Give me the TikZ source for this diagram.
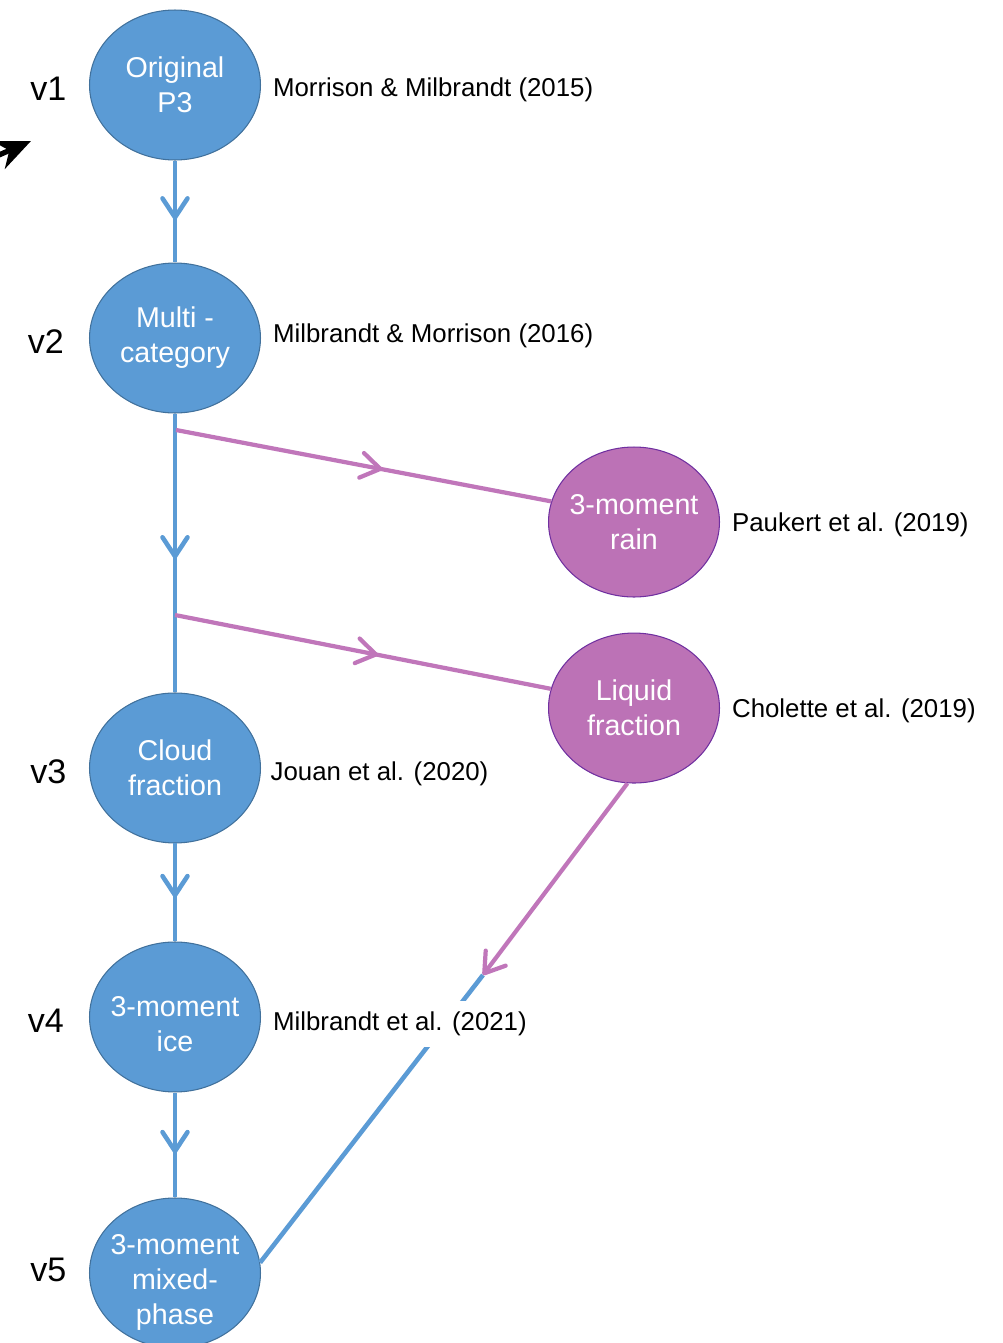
\documentclass[tikz,border=0pt]{standalone}
\usepackage{fontspec}
\setmainfont{Liberation Sans}
\usetikzlibrary{positioning, shapes.geometric, arrows.meta, decorations.markings}
\definecolor{stageblue}{HTML}{5B9BD5}
\definecolor{stageedge}{HTML}{41719C}
\definecolor{branchfill}{HTML}{BC72B6}
\definecolor{branchedge}{HTML}{7030A0}
\definecolor{branchline}{HTML}{C076BA}
\tikzset{
	stage/.style = {
		ellipse,
		draw = stageedge,
		fill = stageblue,
		line width = 0.6pt,
		text = white,
		align = center,
		font = \fontsize{16.3}{19.9}\selectfont,
		inner xsep = -0.2cm,
		inner ysep = 0pt,
		minimum width = 3.42cm,
		minimum height = 3cm
	},
	branch/.style = {stage, draw = branchedge, fill = branchfill},
	version/.style = {font = \fontsize{19.4}{23}\selectfont, yshift = -0.08cm},
	paper/.style = {font = \fontsize{14.7}{17}\selectfont, inner sep = 1pt},
	flow/.style = {
		color = stageblue,
		line width = 2.6pt,
		postaction = {decorate},
		decoration = {markings, mark = at position #1 with {\arrow{Straight Barb[length=0.38cm, width=0.5cm, round]}}}
	},
	flow/.default = 0.56,
	feed/.style = {flow = #1, color = branchline, line width = 2.4pt},
	feed/.default = 0.55
}

\begin{document}
\begin{tikzpicture}[x=0.02cm, y=-0.02cm]
    \useasboundingbox (0,0) rectangle (1003,1343);

    % main line of versions
    \node [stage] (v1) at (175,85) {Original\\P3} ;
    \node [stage, below = 2.04cm of v1] (v2) {Multi -\\category} ;
    \node [stage, below = 5.58cm of v2] (v3) {Cloud\\fraction} ;
    \node [stage, below = 1.96cm of v3, text height = 39.6pt] (v4) {3-moment\\ice} ;
    \node [stage, below = 2.1cm of v4, text height = 61.7pt, inner ysep = -0.2cm] (v5) {3-moment\\mixed-\\phase} ;

    % side developments
    \node [branch] (rain) at (634,522) {3-moment\\rain} ;
    \node [branch, below = 0.7cm of rain] (liq) {Liquid\\fraction} ;

    \node [version, left = 0.33cm of v1] (v1num) {v1} ;
    \node [version, left = 0.38cm of v2] (v2num) {v2} ;
    \node [version, left = 0.33cm of v3] (v3num) {v3} ;
    \node [version, left = 0.38cm of v4] (v4num) {v4} ;
    \node [version, left = 0.33cm of v5, yshift = 0.14cm] (v5num) {v5} ;

    \coordinate (br1) at (176,430) ;
    \coordinate (br2) at (175,615) ;
    \coordinate (join) at (483,975) ;

    \draw [flow = 0.58] (v1.south) -- (v2.north) ;
    \draw [flow = 0.52] (v2.south) -- (v3.north) ;
    \draw [flow = 0.55] (v3.south) -- (v4.north) ;
    \draw [flow = 0.58] (v4.south) -- (v5.north) ;
    \draw [feed] (br1) -- (rain.166) ;
    \draw [feed = 0.54] (br2) -- (liq.167) ;
    \draw [stageblue, line width = 2.6pt] (v5.7) -- (join) ;
    \draw [branchline, line width = 2.4pt, -{Straight Barb[length=0.38cm, width=0.5cm, round]}] (liq.265) -- (join) ;

    % references
    \node [paper, right = 0.2cm of v1, yshift = -0.1cm] (ref1) {Morrison \& Milbrandt (2015)} ;
    \node [paper, right = 0.2cm of v2, yshift = 0.04cm] (ref2) {Milbrandt \& Morrison (2016)} ;
    \node [paper, right = 0.2cm of rain, yshift = -0.06cm] (refrain) {Paukert et al. (2019)} ;
    \node [paper, right = 0.2cm of liq, yshift = -0.06cm] (refliq) {Cholette et al. (2019)} ;
    \node [paper, right = 0.15cm of v3, yshift = -0.12cm] (ref3) {Jouan et al. (2020)} ;
    \node [paper, fill = white, inner ysep = 0.22cm, right = 0.2cm of v4, yshift = -0.14cm] (ref4) {Milbrandt et al. (2021)} ;

    % pointer at the left edge
    \coordinate (ptrtail) at (-40,172) ;
    \coordinate (ptrtip) at (31,141) ;
    \draw [line width = 3pt, -{Stealth[length=0.7cm, width=0.6cm]}] (ptrtail) -- (ptrtip) ;
\end{tikzpicture}
\end{document}
